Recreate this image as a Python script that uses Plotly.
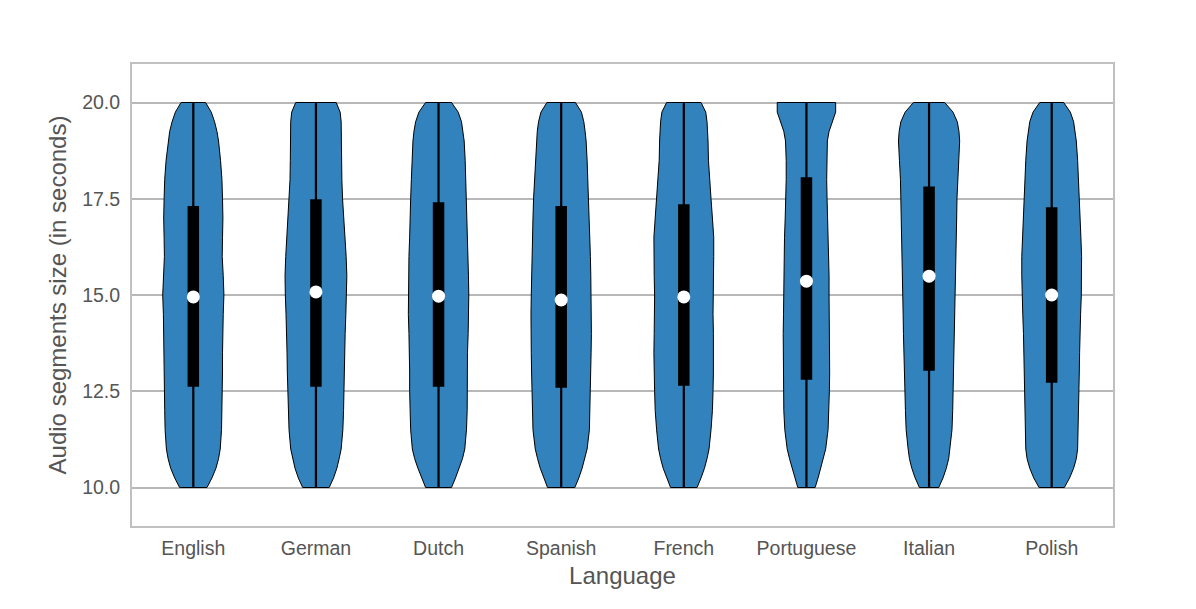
import plotly.graph_objects as go

languages = ["English", "German", "Dutch", "Spanish", "French", "Portuguese", "Italian", "Polish"]

# y levels (seconds) where the density profile of each violin is read
levels = [10, 10.25, 10.5, 10.75, 11, 11.5, 12, 12.5, 13, 13.5, 14, 14.5, 15,
          15.5, 16, 16.5, 17, 17.5, 18, 18.5, 19, 19.25, 19.5, 19.75, 20]

# kernel density (relative half width) at each level, bottom to top
english = [13.7, 18.7, 22.7, 25.3, 27.0, 28.3, 28.7, 29.0, 29.3, 29.3, 29.3, 30.0, 30.7,
           30.0, 29.0, 29.3, 29.7, 29.3, 28.7, 27.3, 25.3, 23.7, 21.3, 18.0, 12.3]
german = [13.3, 17.7, 21.0, 23.3, 25.3, 27.0, 27.7, 28.3, 28.7, 29.0, 29.3, 30.0, 30.7,
          31.0, 30.3, 29.3, 28.0, 26.7, 26.0, 25.7, 25.3, 25.3, 25.3, 24.3, 20.3]
dutch = [13.0, 17.0, 20.7, 24.0, 26.3, 28.0, 28.7, 29.0, 29.0, 29.0, 29.7, 30.3, 30.3,
         30.0, 29.7, 29.0, 28.7, 28.0, 27.3, 26.7, 25.7, 24.7, 23.0, 19.7, 13.0]
spanish = [13.7, 17.7, 21.0, 23.7, 26.0, 28.3, 29.0, 29.3, 29.7, 30.0, 30.3, 30.3, 30.0,
           29.7, 29.3, 29.0, 28.3, 27.7, 26.7, 26.0, 25.0, 24.0, 22.7, 20.3, 14.3]
french = [13.3, 17.3, 20.7, 23.3, 25.3, 27.3, 28.7, 29.3, 29.7, 30.0, 29.7, 29.3, 29.3,
          29.7, 30.0, 30.0, 28.7, 27.3, 25.7, 24.7, 24.3, 24.0, 23.3, 22.0, 17.3]
portuguese = [8.7, 11.7, 14.3, 17.0, 19.3, 21.7, 22.7, 23.0, 23.3, 23.3, 23.3, 23.0, 22.7,
              22.7, 22.7, 22.0, 21.3, 20.7, 20.3, 20.3, 21.0, 22.7, 26.0, 29.3, 29.3]
italian = [9.7, 14.0, 17.3, 19.7, 21.0, 23.0, 23.7, 24.3, 25.0, 25.3, 25.7, 26.0, 26.3,
           26.7, 27.0, 27.3, 27.7, 28.0, 28.7, 29.7, 30.7, 30.0, 28.3, 24.0, 15.7]
polish = [12.7, 18.0, 22.0, 24.7, 26.0, 26.3, 26.7, 27.3, 27.7, 28.0, 28.3, 29.0, 29.7,
          30.0, 30.0, 29.3, 28.7, 27.7, 27.0, 26.0, 24.7, 23.7, 22.0, 18.7, 12.0]

q1 = [12.62, 12.62, 12.62, 12.59, 12.64, 12.80, 13.03, 12.72]
median = [14.95, 15.08, 14.97, 14.87, 14.95, 15.36, 15.49, 15.00]
q3 = [17.31, 17.49, 17.41, 17.31, 17.36, 18.06, 17.82, 17.28]
whisker_low = [10, 10, 10, 10, 10, 10, 10, 10]
whisker_high = [20, 20, 20, 20, 20, 20, 20, 20]

profiles = [english, german, dutch, spanish, french, portuguese, italian, polish]

violin_color = "#3182bd"
text_color = "#555555"
grid_color = "#b8b8b8"
scale = 1 / 123.0  # density units -> category units

fig = go.Figure()

for i, dens in enumerate(profiles):
    left = [i - d * scale for d in dens]
    right = [i + d * scale for d in dens]
    xs = left + right[::-1] + [left[0]]
    ys = levels + levels[::-1] + [levels[0]]
    fig.add_trace(go.Scatter(x=xs, y=ys, mode="lines", fill="toself",
                             fillcolor=violin_color, line=dict(color="black", width=1),
                             hoverinfo="skip", showlegend=False))

for i, name in enumerate(languages):
    # whisker
    fig.add_trace(go.Scatter(x=[i, i], y=[whisker_low[i], whisker_high[i]], mode="lines",
                             line=dict(color="black", width=2.2), showlegend=False, hoverinfo="skip"))
    # box (IQR)
    fig.add_trace(go.Scatter(x=[i, i], y=[q1[i], q3[i]], mode="lines",
                             line=dict(color="black", width=11.5), showlegend=False, name=name))
    # median
    fig.add_trace(go.Scatter(x=[i], y=[median[i]], mode="markers",
                             marker=dict(color="white", size=13, line=dict(width=0)),
                             showlegend=False, name=name))

fig.update_xaxes(range=[-0.5, 7.5], tickvals=list(range(len(languages))), ticktext=languages,
                 showgrid=False, zeroline=False, showline=True, mirror=True,
                 linecolor="#c0c0c0", linewidth=2, ticks="", ticklabelstandoff=4,
                 tickfont=dict(size=19.5, color=text_color),
                 title=dict(text="Language", font=dict(size=24, color=text_color), standoff=9))

fig.update_yaxes(range=[9, 21], tickvals=[10, 12.5, 15, 17.5, 20],
                 ticktext=["10.0", "12.5", "15.0", "17.5", "20.0"],
                 showgrid=True, gridcolor=grid_color, gridwidth=1.6, zeroline=False,
                 showline=True, mirror=True, linecolor="#c0c0c0", linewidth=2,
                 ticks="", ticklabelstandoff=6,
                 tickfont=dict(size=19.5, color=text_color),
                 title=dict(text="Audio segments size (in seconds)",
                            font=dict(size=24, color=text_color), standoff=9))

# the page body adds an 8px margin, so the figure is sized to fit the window
fig.update_layout(width=1180, height=593, plot_bgcolor="white", paper_bgcolor="white",
                  margin=dict(l=124, r=75, t=56, b=75),
                  font=dict(family="Liberation Sans, Arial, sans-serif", color=text_color),
                  showlegend=False)

fig.write_html("out.html")
